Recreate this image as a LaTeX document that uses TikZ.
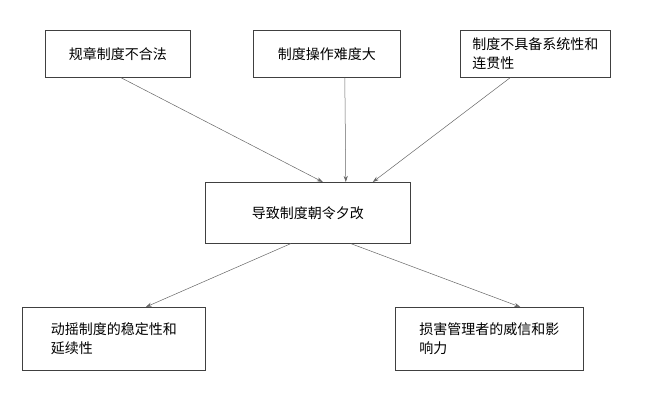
\documentclass[tikz,border=0pt]{standalone}
\usepackage{fontspec}
\setmainfont{Noto Sans CJK SC}
\usetikzlibrary{arrows.meta}
\begin{document}
\begin{tikzpicture}[x=1pt,y=-1pt]
	\tikzset{cause/.style={draw=black!75, line width=0.6pt, minimum height=47pt,
		inner xsep=8pt, font=\fontsize{14}{19}\selectfont, align=left, anchor=north west},
		arrow/.style={draw=black!60, line width=0.5pt, -{Stealth[length=6pt,width=4pt]}}}
	\useasboundingbox (0,0) rectangle (660,413);
	\node (illegal) [cause, minimum width=145pt] at (45,30) {规章制度不合法};
	\node (hard) [cause, minimum width=147pt] at (253,30) {制度操作难度大};
	\node (nosystem) [cause, minimum width=150pt, inner xsep=6pt] at (460,30) {制度不具备系统性和\\连贯性};
	\node (change) [cause, minimum width=205pt, minimum height=61pt] at (205,182) {导致制度朝令夕改};
	\node (shake) [cause, minimum width=183pt, minimum height=63pt, inner xsep=6pt] at (22,307) {动摇制度的稳定性和\\延续性};
	\node (harm) [cause, minimum width=188pt, minimum height=63pt, inner xsep=6pt] at (395,307) {损害管理者的威信和影\\响力};
	\draw [arrow] ([xshift=3pt]illegal.south) -- ([xshift=15pt]change.north);
	\draw [arrow] ([xshift=18pt]hard.south) -- ([xshift=38pt]change.north);
	\draw [arrow] ([xshift=-25pt]nosystem.south) -- ([xshift=65pt]change.north);
	\draw [arrow] ([xshift=-17pt]change.south) -- ([xshift=32pt]shake.north);
	\draw [arrow] ([xshift=43pt]change.south) -- ([xshift=31pt]harm.north);
\end{tikzpicture}
\end{document}
